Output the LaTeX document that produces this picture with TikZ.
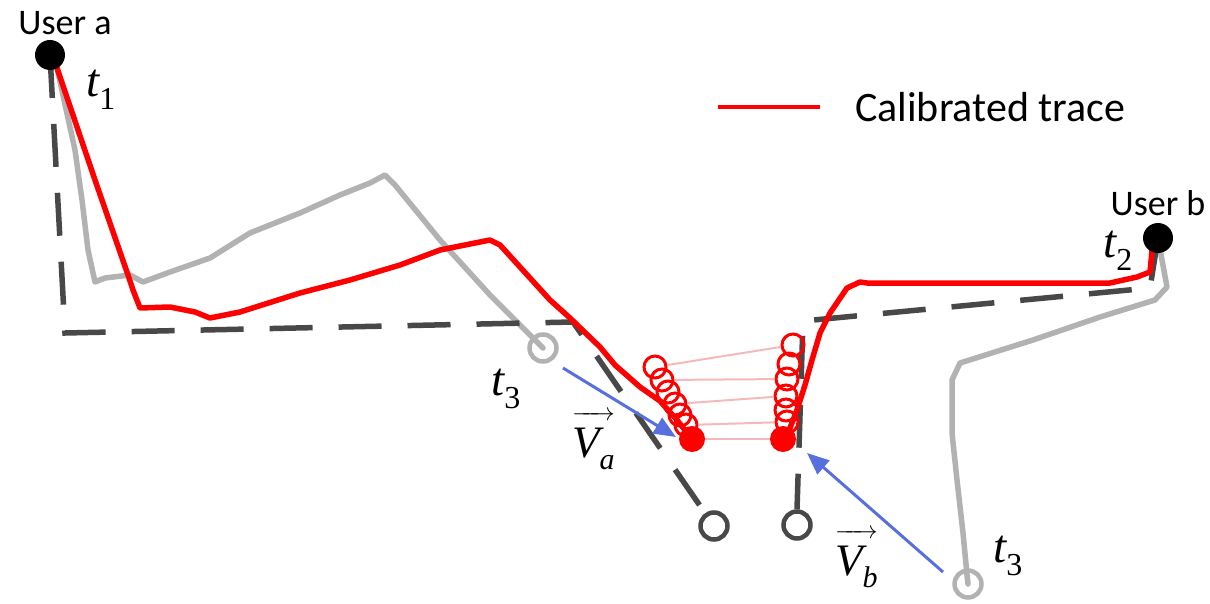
\documentclass[tikz,border=0pt]{standalone}
\usepackage{fontspec}
\setmainfont{Carlito}
\newfontfamily\tms{Liberation Serif}
\usetikzlibrary{arrows.meta,backgrounds}
\definecolor{tred}{RGB}{255,0,0}
\definecolor{tgray}{RGB}{178,178,178}
\definecolor{tdark}{RGB}{72,72,72}
\definecolor{tpink}{RGB}{245,185,185}
\definecolor{tblue}{RGB}{88,112,222}
\newcommand\tsub[2]{{\tms\fontsize{47}{47}\selectfont\itshape #1}{\tms\fontsize{32}{32}\selectfont\raisebox{-13pt}{#2}}}
\newcommand\vlab[1]{$\overrightarrow{\mbox{\rule{0pt}{38pt}\tms\fontsize{45}{45}\selectfont\itshape V\raisebox{-12pt}{\fontsize{30}{30}\selectfont #1}}}$}
\begin{document}
\begin{tikzpicture}[x=1pt,y=-1pt,
 trace/.style={line width=5.5pt, line join=round, line cap=round},
 redtr/.style={trace, draw=tred},
 graytr/.style={trace, draw=tgray},
 truth/.style={line width=5.5pt, draw=tdark, dash pattern=on 43pt off 26pt},
 userdot/.style={circle, fill=black, minimum size=30pt, inner sep=0pt},
 endring/.style={circle, draw=tdark, line width=4.5pt, minimum size=27pt, inner sep=0pt},
 grayring/.style={circle, draw=tgray, line width=4.5pt, minimum size=27pt, inner sep=0pt},
 redring/.style={circle, draw=tred, line width=3pt, minimum size=22pt, inner sep=0pt},
 reddot/.style={circle, fill=tred, minimum size=26pt, inner sep=0pt},
 link/.style={draw=tpink, line width=2pt},
 vel/.style={draw=tblue, line width=3pt, -{Triangle[length=22pt,width=18pt]}},
 ulabel/.style={font=\fontsize{36}{36}\selectfont, inner sep=0pt, anchor=base},
 tlabel/.style={inner sep=0pt, anchor=base west},
 vlabel/.style={inner sep=0pt, anchor=base west, font=\fontsize{45}{45}\selectfont},
]
\useasboundingbox (0,0) rectangle (1210,604);

% users
\node[userdot] (ua) at (50,55) {};
\node[userdot] (ub) at (1158,238) {};
\node[ulabel] (ualab) at (65,35) {User a};
\node[ulabel] (ublab) at (1158,216) {User b};

% end rings
\node[endring] (ea) at (714,526) {};
\node[endring] (eb) at (797,525) {};
\node[grayring] (ga) at (543,348) {};
\node[grayring] (gb) at (968,584) {};

% red rings and dots
\node[redring] (l1) at (655,367) {};
\node[redring] (l2) at (662,380) {};
\node[redring] (l3) at (668,392) {};
\node[redring] (l4) at (675,404) {};
\node[redring] (l5) at (680,415) {};
\node[redring] (l6) at (686,425) {};
\node[redring] (r1) at (793,345) {};
\node[redring] (r2) at (789,364) {};
\node[redring] (r3) at (787,379) {};
\node[redring] (r4) at (786,396) {};
\node[redring] (r5) at (786,410) {};
\node[redring] (r6) at (787,422) {};
\node[reddot] (da) at (692,439) {};
\node[reddot] (db) at (783,439) {};

% labels
\node[tlabel] (t1) at (86,97) {\tsub{t}{1}};
\node[tlabel] (t2) at (1103,258) {\tsub{t}{2}};
\node[tlabel] (t3a) at (491,395) {\tsub{t}{3}};
\node[tlabel] (t3b) at (993,562) {\tsub{t}{3}};
\node[vlabel] (va) at (572,457) {\vlab{a}};
\node[vlabel] (vb) at (835,575) {\vlab{b}};

% legend
\coordinate (lg1) at (718,107);
\coordinate (lg2) at (820,107);
\node[inner sep=0pt, anchor=base west, font=\fontsize{42}{42}\selectfont] (lgt) at (855,122) {Calibrated trace};

% velocity arrows
\coordinate (vas) at (563,368);
\coordinate (vae) at (676,437);
\coordinate (vbs) at (943,572);
\coordinate (vbe) at (807,453);
\draw[vel] (vas) -- (vae);
\draw[vel] (vbs) -- (vbe);

% links
\draw[link] (l1) -- (r1);
\draw[link] (l2) -- (r3);
\draw[link] (l4) -- (r4);
\draw[link] (l6) -- (r6);
\draw[link] (da) -- (db);

\begin{pgfonlayer}{background}
% gray traces
\draw[graytr] (ua.center) -- (57,68) -- (75,150) -- (82,200) -- (88,250) -- (95,282)
  -- (105,278) -- (130,275) -- (143,282) -- (170,272) -- (210,258) -- (250,233)
  -- (300,213) -- (340,195) -- (370,183) -- (385,175) -- (395,185) -- (440,240)
  -- (490,295) -- (535,340) -- (ga.center);
\draw[graytr] (ub.center) -- (1162,260) -- (1167,287) -- (1155,300) -- (1100,317)
  -- (1033,340) -- (960,363) -- (952,380) -- (952,433) -- (957,480) -- (963,533)
  -- (967,575) -- (gb.center);
% ground truth
\draw[truth] (ua.center) -- (65,333) -- (573,322) -- (ea.center);
\draw[truth] (ub.center) -- (1150,288) -- (803,321) -- (eb.north);
% red traces
\draw[redtr] (ua.center) -- (57,68) -- (95,180) -- (128,275) -- (133,290) -- (140,308)
  -- (170,307) -- (195,312) -- (210,318) -- (240,312) -- (300,293) -- (350,280)
  -- (400,265) -- (440,250) -- (465,245) -- (490,240) -- (500,245) -- (530,278)
  -- (550,300) -- (570,318) -- (600,347) -- (615,365) -- (640,387) -- (660,401)
  -- (677,420) -- (da.center);
\draw[redtr] (ub.center) -- (1152,250) -- (1150,272) -- (1137,277) -- (1110,283)
  -- (903,283) -- (867,283) -- (860,282) -- (847,288) -- (830,313) -- (820,333)
  -- (812,360) -- (805,385) -- (797,410) -- (790,428) -- (db.center);
\draw[redtr, line width=4.5pt, line cap=butt] (lg1) -- (lg2);
\end{pgfonlayer}
\end{tikzpicture}
\end{document}
